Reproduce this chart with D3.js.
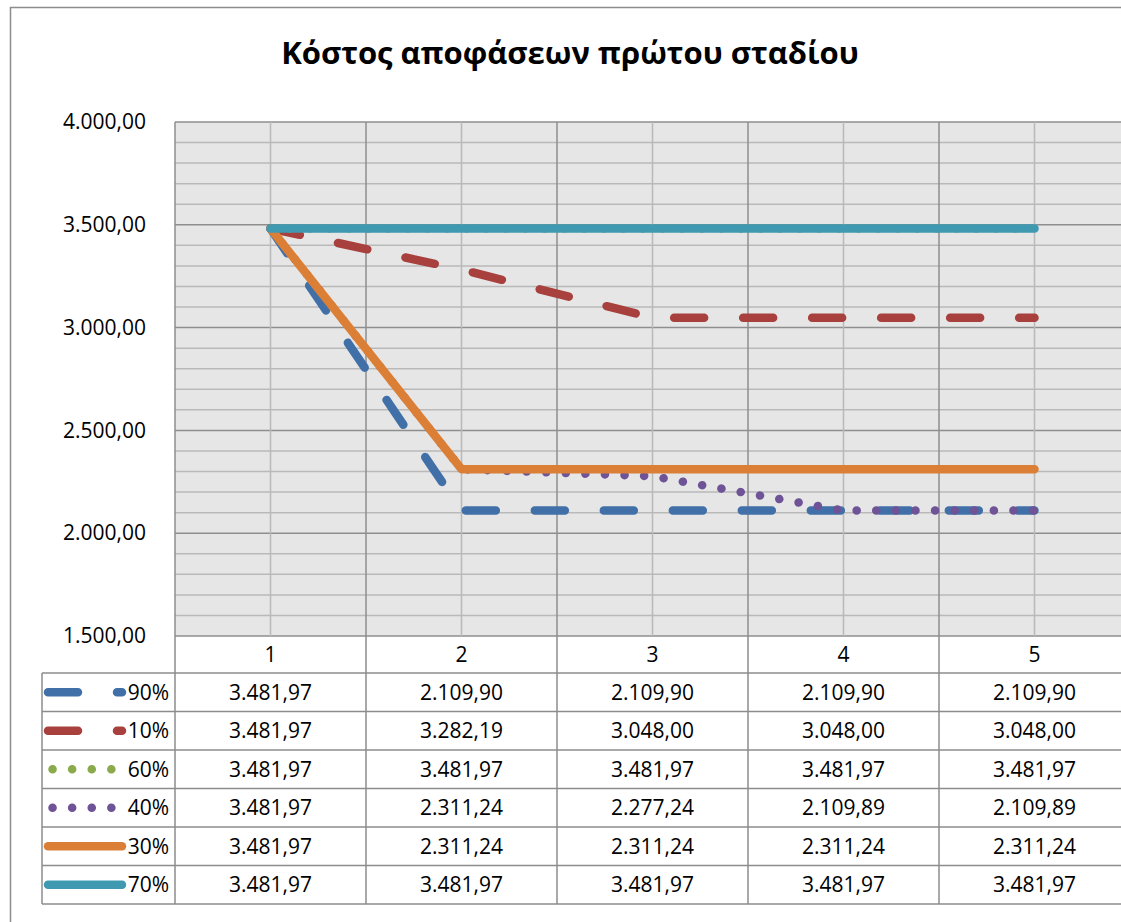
<!DOCTYPE html>
<html>
<head>
<meta charset="utf-8">
<script src="https://cdn.jsdelivr.net/npm/d3@7"></script>
<style>
    body { margin: 0; background: #fff; }
    text { font-family: "Open Sans", "Noto Sans", sans-serif; fill: #000; }
</style>
</head>
<body>
<svg width="1121" height="922"></svg>
<script>
var title = "Κόστος αποφάσεων πρώτου σταδίου";
var categories = [1, 2, 3, 4, 5];
var yTicks = [1500, 2000, 2500, 3000, 3500, 4000];
var seriesNames = ["90%", "10%", "60%", "40%", "30%", "70%"];
var values90 = [3481.97, 2109.90, 2109.90, 2109.90, 2109.90];
var values10 = [3481.97, 3282.19, 3048.00, 3048.00, 3048.00];
var values60 = [3481.97, 3481.97, 3481.97, 3481.97, 3481.97];
var values40 = [3481.97, 2311.24, 2277.24, 2109.89, 2109.89];
var values30 = [3481.97, 2311.24, 2311.24, 2311.24, 2311.24];
var values70 = [3481.97, 3481.97, 3481.97, 3481.97, 3481.97];

var series = [
    {name: seriesNames[0], values: values90, color: "#4170a8", dash: "30,39", dotted: false},
    {name: seriesNames[1], values: values10, color: "#a8403d", dash: "30,39", dotted: false},
    {name: seriesNames[2], values: values60, color: "#8aaa4b", dash: "0.1,19.5", dotted: true},
    {name: seriesNames[3], values: values40, color: "#6e5497", dash: "0.1,19.5", dotted: true},
    {name: seriesNames[4], values: values30, color: "#dc7f36", dash: null, dotted: false},
    {name: seriesNames[5], values: values70, color: "#3e99b1", dash: null, dotted: false}
];

var locale = d3.formatLocale({decimal: ",", thousands: ".", grouping: [3], currency: ["", ""]});
var fmt = locale.format(",.2f");

var svg = d3.select("svg");
var plotLeft = 175, plotTop = 122, plotBottom = 636, colWidth = 191;
var legendLeft = 42, rowHeight = 38.5, headerHeight = 37;
var lineWidth = 8.5;
var fontSize = "21px";

svg.append("rect")
    .attr("x", 0).attr("y", 0).attr("width", 1121).attr("height", 922)
    .attr("fill", "#fff");

// outer chart border
svg.append("rect")
    .attr("x", 10.5).attr("y", 7.5).attr("width", 1140).attr("height", 940)
    .attr("fill", "none").attr("stroke", "#8c8c8c").attr("stroke-width", 1.5);

svg.append("text")
    .attr("x", 570).attr("y", 64)
    .attr("text-anchor", "middle")
    .style("font-size", "31px").style("font-weight", "bold")
    .text(title);

var x = d3.scaleBand()
    .domain(categories)
    .range([plotLeft, plotLeft + colWidth * categories.length]);
var cx = function(c) { return x(c) + x.bandwidth() / 2; };

var y = d3.scaleLinear()
    .domain([1500, 4000])
    .range([plotBottom, plotTop]);

// PLOT AREA
svg.append("rect")
    .attr("x", plotLeft).attr("y", plotTop)
    .attr("width", colWidth * categories.length).attr("height", plotBottom - plotTop)
    .attr("fill", "#e6e6e6");

var minorTicks = d3.range(1500, 4001, 100);
svg.append("g").selectAll("line")
    .data(minorTicks)
    .enter()
    .append("line")
    .attr("x1", plotLeft).attr("x2", plotLeft + colWidth * categories.length)
    .attr("y1", function(d) { return y(d); }).attr("y2", function(d) { return y(d); })
    .attr("stroke", function(d) { return d % 500 === 0 ? "#8e8e8e" : "#b9b9b9"; })
    .attr("stroke-width", 1.5);

svg.append("g").selectAll("line")
    .data(categories)
    .enter()
    .append("line")
    .attr("x1", cx).attr("x2", cx)
    .attr("y1", plotTop).attr("y2", plotBottom)
    .attr("stroke", "#b9b9b9").attr("stroke-width", 1.5);

svg.append("g").selectAll("line")
    .data(categories)
    .enter()
    .append("line")
    .attr("x1", function(d) { return x(d); }).attr("x2", function(d) { return x(d); })
    .attr("y1", plotTop).attr("y2", plotBottom)
    .attr("stroke", "#8e8e8e").attr("stroke-width", 1.5);

// Y AXIS
var yAxis = d3.axisLeft(y)
    .tickValues(yTicks)
    .tickSize(0)
    .tickPadding(29)
    .tickFormat(fmt);
var yg = svg.append("g")
    .attr("transform", "translate(" + plotLeft + ",0)")
    .call(yAxis);
yg.select(".domain").remove();
yg.selectAll("text")
    .style("font-size", fontSize)
    .style("font-family", "\"Open Sans\", sans-serif")
    .attr("fill", "#000");

// LINES
var line = d3.line()
    .x(function(d, i) { return cx(categories[i]); })
    .y(function(d) { return y(d); });

svg.append("g").selectAll("path")
    .data(series)
    .enter()
    .append("path")
    .attr("d", function(d) { return line(d.values); })
    .attr("fill", "none")
    .attr("stroke", function(d) { return d.color; })
    .attr("stroke-width", lineWidth)
    .attr("stroke-linecap", "round")
    .attr("stroke-linejoin", "round")
    .attr("stroke-dasharray", function(d) { return d.dash; });

// DATA TABLE
var tableRight = plotLeft + colWidth * categories.length;
var tableBottom = plotBottom + headerHeight + rowHeight * series.length;
var grid = svg.append("g")
    .attr("stroke", "#8c8c8c").attr("stroke-width", 1.5);

// horizontal borders
grid.append("line")
    .attr("x1", legendLeft).attr("x2", tableRight)
    .attr("y1", plotBottom + headerHeight).attr("y2", plotBottom + headerHeight);
grid.selectAll(".hrow")
    .data(series)
    .enter()
    .append("line")
    .attr("x1", legendLeft).attr("x2", tableRight)
    .attr("y1", function(d, i) { return plotBottom + headerHeight + rowHeight * (i + 1); })
    .attr("y2", function(d, i) { return plotBottom + headerHeight + rowHeight * (i + 1); });

// vertical borders
grid.append("line")
    .attr("x1", legendLeft).attr("x2", legendLeft)
    .attr("y1", plotBottom + headerHeight).attr("y2", tableBottom);
grid.selectAll(".vcol")
    .data(categories)
    .enter()
    .append("line")
    .attr("x1", function(d) { return x(d); }).attr("x2", function(d) { return x(d); })
    .attr("y1", plotBottom).attr("y2", tableBottom);

// header labels
svg.append("g").selectAll("text")
    .data(categories)
    .enter()
    .append("text")
    .attr("x", cx)
    .attr("y", plotBottom + headerHeight / 2 + 7)
    .attr("text-anchor", "middle")
    .style("font-size", fontSize)
    .text(function(d) { return d; });

var rows = svg.append("g").selectAll("g")
    .data(series)
    .enter()
    .append("g")
    .attr("transform", function(d, i) {
        return "translate(0," + (plotBottom + headerHeight + rowHeight * i + rowHeight / 2) + ")";
    });

rows.selectAll("text.val")
    .data(function(d) { return d.values; })
    .enter()
    .append("text")
    .attr("class", "val")
    .attr("x", function(d, i) { return cx(categories[i]); })
    .attr("y", 7.5)
    .attr("text-anchor", "middle")
    .style("font-size", fontSize)
    .text(function(d) { return fmt(d); });

// legend keys
rows.append("line")
    .attr("x1", 48).attr("x2", 122)
    .attr("y1", 0).attr("y2", 0)
    .attr("stroke", function(d) { return d.color; })
    .attr("stroke-width", lineWidth)
    .attr("stroke-linecap", "round")
    .attr("stroke-dasharray", function(d) { return d.dash; })
    .attr("stroke-dashoffset", function(d) { return d.dotted ? -4.5 : 0; });

rows.append("text")
    .attr("x", 169)
    .attr("y", 7.5)
    .attr("text-anchor", "end")
    .style("font-size", fontSize)
    .text(function(d) { return d.name; });
</script>
</body>
</html>
